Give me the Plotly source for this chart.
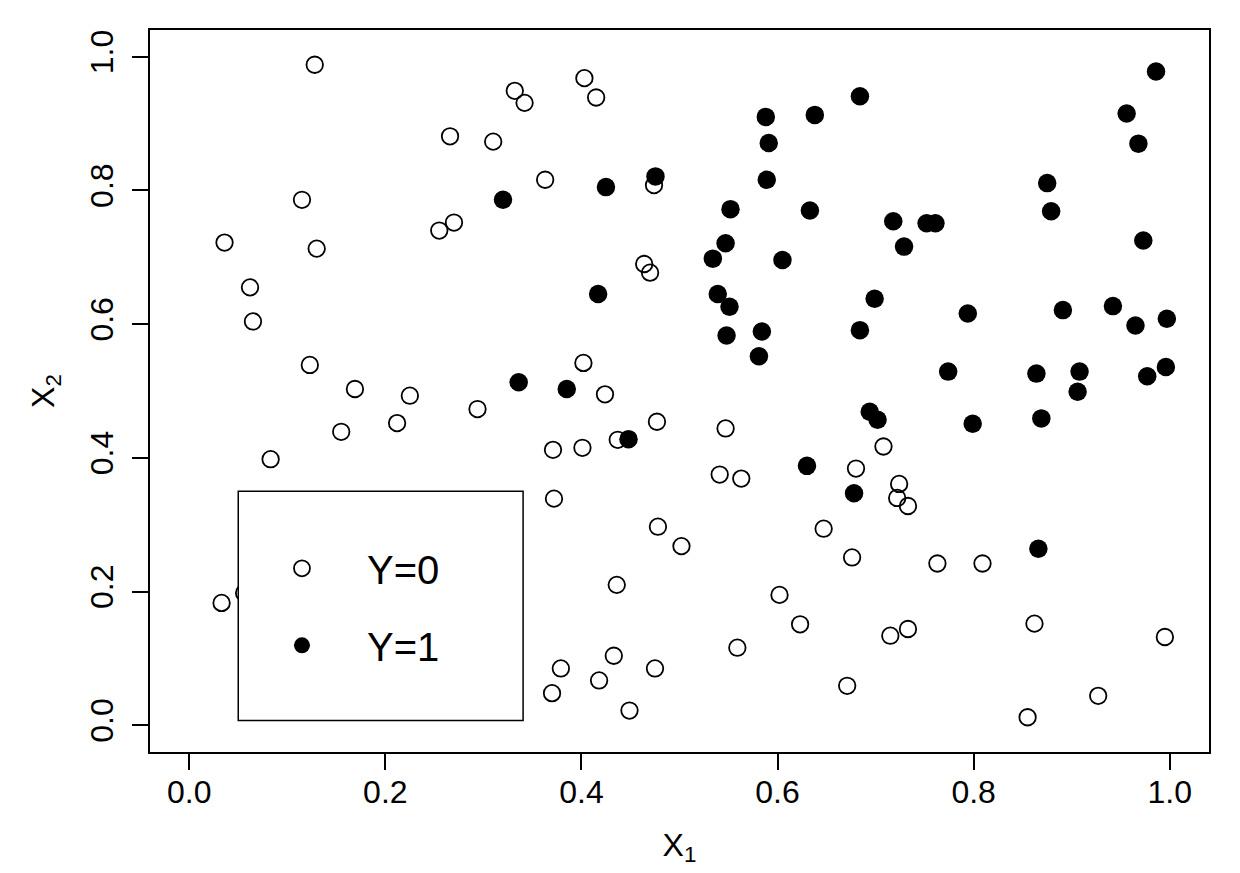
import plotly.graph_objects as go

# Y = 0 observations (open circles)
x1_y0 = [0.128, 0.332, 0.342, 0.266, 0.310, 0.363, 0.115, 0.270, 0.255, 0.036, 0.130, 0.062, 0.065, 0.123, 0.169, 0.225,
         0.403, 0.415, 0.474, 0.464, 0.470, 0.402, 0.424,
         0.294, 0.212, 0.155, 0.083, 0.371, 0.372, 0.033, 0.056,
         0.477, 0.547, 0.401, 0.437, 0.541, 0.563, 0.708, 0.680, 0.724, 0.722, 0.733, 0.478, 0.502, 0.647, 0.676,
         0.436, 0.602, 0.623, 0.559, 0.715, 0.733, 0.433, 0.379, 0.418, 0.475, 0.370, 0.449, 0.671,
         0.763, 0.809, 0.862, 0.995, 0.927, 0.855]
x2_y0 = [0.988, 0.949, 0.931, 0.881, 0.873, 0.816, 0.786, 0.752, 0.740, 0.722, 0.713, 0.655, 0.604, 0.539, 0.503, 0.493,
         0.968, 0.939, 0.808, 0.690, 0.677, 0.542, 0.495,
         0.473, 0.452, 0.439, 0.398, 0.412, 0.339, 0.183, 0.198,
         0.454, 0.444, 0.415, 0.427, 0.375, 0.369, 0.417, 0.384, 0.361, 0.340, 0.328, 0.297, 0.268, 0.294, 0.251,
         0.210, 0.195, 0.151, 0.116, 0.134, 0.144, 0.104, 0.085, 0.067, 0.085, 0.048, 0.022, 0.059,
         0.242, 0.242, 0.152, 0.132, 0.044, 0.012]

# Y = 1 observations (filled circles)
x1_y1 = [0.320, 0.336,
         0.684, 0.588, 0.638, 0.591, 0.589, 0.4755, 0.425, 0.552, 0.633, 0.718, 0.729, 0.547, 0.534, 0.605,
         0.539, 0.551, 0.417, 0.699, 0.548, 0.584, 0.684, 0.581, 0.385,
         0.986, 0.956, 0.968, 0.875, 0.879, 0.752, 0.761, 0.973, 0.794, 0.891, 0.942, 0.965, 0.997,
         0.774, 0.864, 0.908, 0.906, 0.977, 0.996,
         0.448, 0.694, 0.702, 0.630, 0.678,
         0.799, 0.869, 0.866]
x2_y1 = [0.786, 0.513,
         0.941, 0.910, 0.913, 0.871, 0.816, 0.821, 0.805, 0.772, 0.770, 0.754, 0.716, 0.721, 0.698, 0.696,
         0.645, 0.626, 0.645, 0.638, 0.583, 0.589, 0.591, 0.552, 0.503,
         0.978, 0.915, 0.870, 0.811, 0.769, 0.751, 0.751, 0.725, 0.616, 0.621, 0.627, 0.598, 0.608,
         0.529, 0.526, 0.529, 0.499, 0.522, 0.536,
         0.428, 0.469, 0.457, 0.388, 0.347,
         0.451, 0.459, 0.264]

labels = ["Y=0", "Y=1"]
tick_vals = [0.0, 0.2, 0.4, 0.6, 0.8, 1.0]

FONT = "Liberation Sans, Arial, Helvetica, sans-serif"

fig = go.Figure()
fig.add_trace(go.Scatter(
    x=x1_y0, y=x2_y0, mode="markers", name=labels[0], legendgroup="g0",
    marker=dict(symbol="circle-open", size=16.5, color="black", line=dict(width=1.8, color="black")),
))
fig.add_trace(go.Scatter(
    x=x1_y1, y=x2_y1, mode="markers", name=labels[1], legendgroup="g1",
    marker=dict(symbol="circle", size=18.5, color="black", line=dict(width=0)),
))

# legend box (white, covers points beneath like R's legend)
fig.add_shape(type="rect", xref="x", yref="y", x0=0.05, x1=0.3405, y0=0.0072, y1=0.35,
              fillcolor="white", line=dict(color="black", width=1.5), layer="above")

axis_common = dict(
    range=[-0.04, 1.04], tickvals=tick_vals, tickformat=".1f",
    showgrid=False, zeroline=False,
    showline=True, mirror=True, linecolor="black", linewidth=1.5,
    ticks="outside", ticklen=16, tickwidth=1.5, tickcolor="black",
    tickfont=dict(family=FONT, size=32, color="black"),
)

fig.update_layout(
    width=1240, height=873,
    margin=dict(l=150, r=31, t=30, b=121, autoexpand=False),
    paper_bgcolor="white", plot_bgcolor="white",
    font=dict(family=FONT, color="black"),
    xaxis=dict(**axis_common, ticklabelstandoff=-5,
               title=dict(text="X<sub>1</sub>", font=dict(family=FONT, size=32, color="black"), standoff=24)),
    yaxis=dict(**axis_common, tickangle=-90, ticklabelstandoff=6,
               title=dict(text="X<sub>2</sub>", font=dict(family=FONT, size=32, color="black"), standoff=20)),
    showlegend=True,
    legend=dict(
        x=(237.0 - 150) / 1059.3, y=(752.3 - 536) / 722.3, xanchor="left", yanchor="top",
        bgcolor="rgba(0,0,0,0)", borderwidth=0,
        font=dict(family=FONT, size=40, color="black"),
        itemwidth=120, traceorder="grouped", tracegroupgap=22,
        itemsizing="trace",
    ),
)

fig.write_html("out.html")
